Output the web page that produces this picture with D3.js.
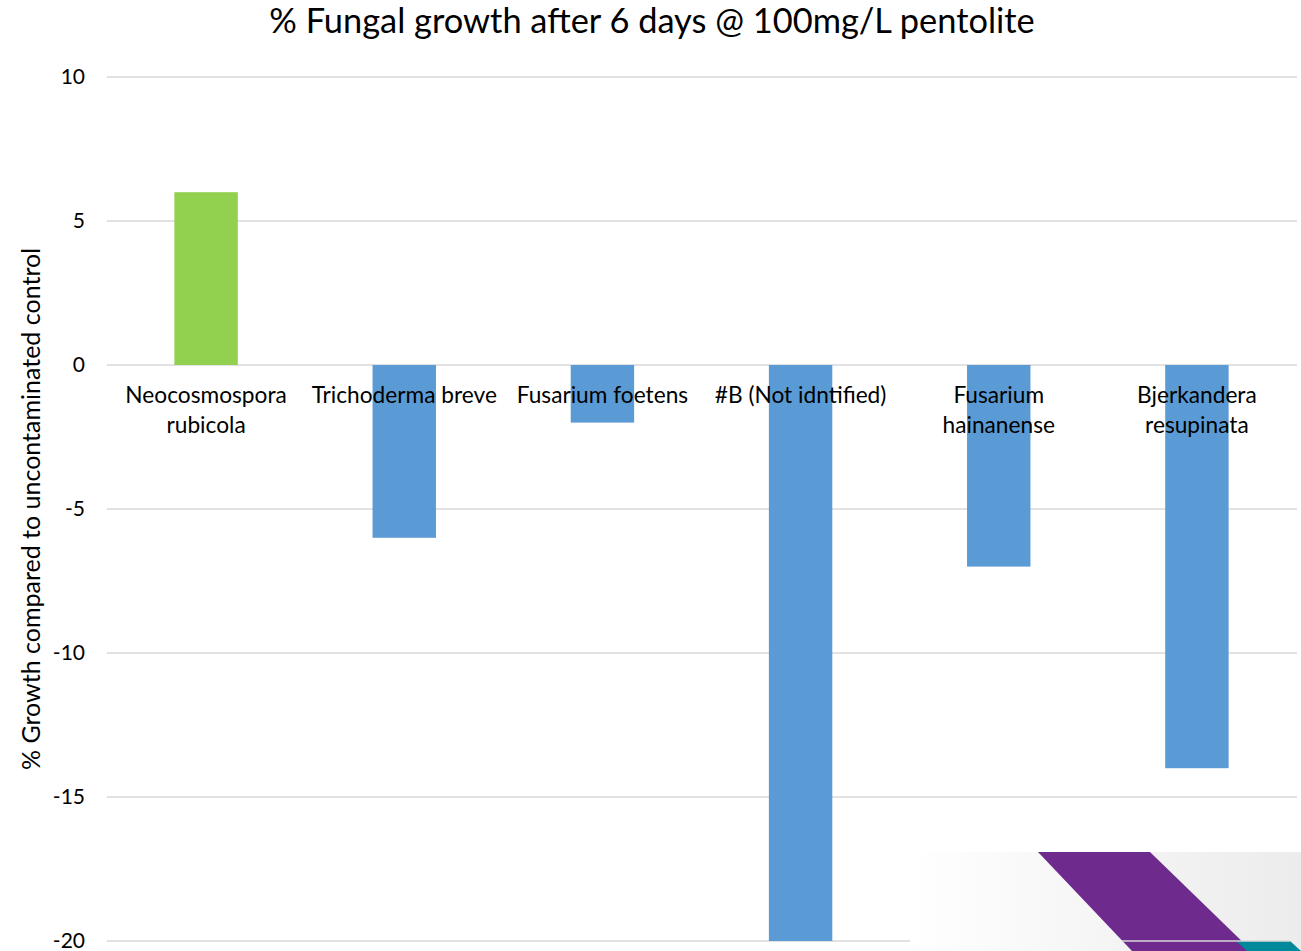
<!DOCTYPE html>
<html><head><meta charset="utf-8">
<script src="https://cdn.jsdelivr.net/npm/d3@7"></script>
<style>body{margin:0;background:#fff;} svg{display:block;} text{font-family:Lato, "Open Sans", sans-serif;fill:#000;}</style>
</head><body>
<svg id="c" width="1301" height="951"></svg>
<script>
const categories = [["Neocosmospora","rubicola"],["Trichoderma breve"],["Fusarium foetens"],["#B (Not idntified)"],["Fusarium","hainanense"],["Bjerkandera","resupinata"]];
const values = [6, -6, -2, -20, -7, -14];
const barColors = ["#92D050","#5B9BD5","#5B9BD5","#5B9BD5","#5B9BD5","#5B9BD5"];
const yTicks = [10, 5, 0, -5, -10, -15, -20];
const titleText = "% Fungal growth after 6 days @ 100mg/L pentolite";
const yTitle = "% Growth compared to uncontaminated control";

const svg = d3.select("#c");
const x = d3.scaleBand().domain(d3.range(categories.length)).range([107, 1296]).paddingInner(0.68).paddingOuter(0.34);
const y = d3.scaleLinear().domain([-20, 10]).range([941, 77]);

// gridlines
svg.append("g").selectAll("line").data(yTicks).join("line")
  .attr("x1", 107).attr("x2", 1297).attr("y1", d => y(d)).attr("y2", d => y(d))
  .attr("stroke", "#d9d9d9").attr("stroke-width", 1.5);

// tick labels
svg.append("g").selectAll("text").data(yTicks).join("text")
  .attr("x", 85).attr("y", d => y(d)).attr("dy", "0.35em").attr("text-anchor", "end")
  .style("font-size", "21px").text(d => d);

// bars
svg.append("g").selectAll("rect").data(values).join("rect")
  .attr("x", (d, i) => x(i)).attr("width", x.bandwidth())
  .attr("y", d => y(Math.max(0, d))).attr("height", d => Math.abs(y(d) - y(0)))
  .attr("fill", (d, i) => barColors[i]);

// logo panel bottom-right
const defs = svg.append("defs");
const g1 = defs.append("linearGradient").attr("id", "pg").attr("x1", "0").attr("x2", "1").attr("y1", "0").attr("y2", "0");
g1.append("stop").attr("offset", "0").attr("stop-color", "#ffffff");
g1.append("stop").attr("offset", "0.6").attr("stop-color", "#f3f3f3");
g1.append("stop").attr("offset", "1").attr("stop-color", "#ececec");
svg.append("rect").attr("x", 910).attr("y", 852).attr("width", 391).attr("height", 99).attr("fill", "url(#pg)");
svg.append("path").attr("d", "M1038,852 L1150,852 L1252,951 L1132,951 Z").attr("fill", "#6E2A8C");
svg.append("path").attr("d", "M1236,941 L1290,941 L1301,951 L1247,951 Z").attr("fill", "#00899A");
svg.append("line").attr("x1", 1122).attr("x2", 1290).attr("y1", y(-20)).attr("y2", y(-20)).attr("stroke", "#d9d9d9").attr("stroke-width", 1.5);

// category labels
const lab = svg.append("g").selectAll("text").data(categories).join("text")
  .attr("text-anchor", "middle").style("font-size", "22.7px");
lab.each(function(d, i) {
  const t = d3.select(this);
  d.forEach((s, j) => t.append("tspan").attr("x", x(i) + x.bandwidth() / 2).attr("y", 403 + j * 30).text(s));
});

// title
svg.append("text").attr("x", 652).attr("y", 33).attr("text-anchor", "middle").style("font-size", "34.4px").text(titleText);

// y title
svg.append("text").attr("transform", "translate(40,509) rotate(-90)").attr("text-anchor", "middle")
  .style("font-size", "25px").text(yTitle);
</script>
</body></html>
